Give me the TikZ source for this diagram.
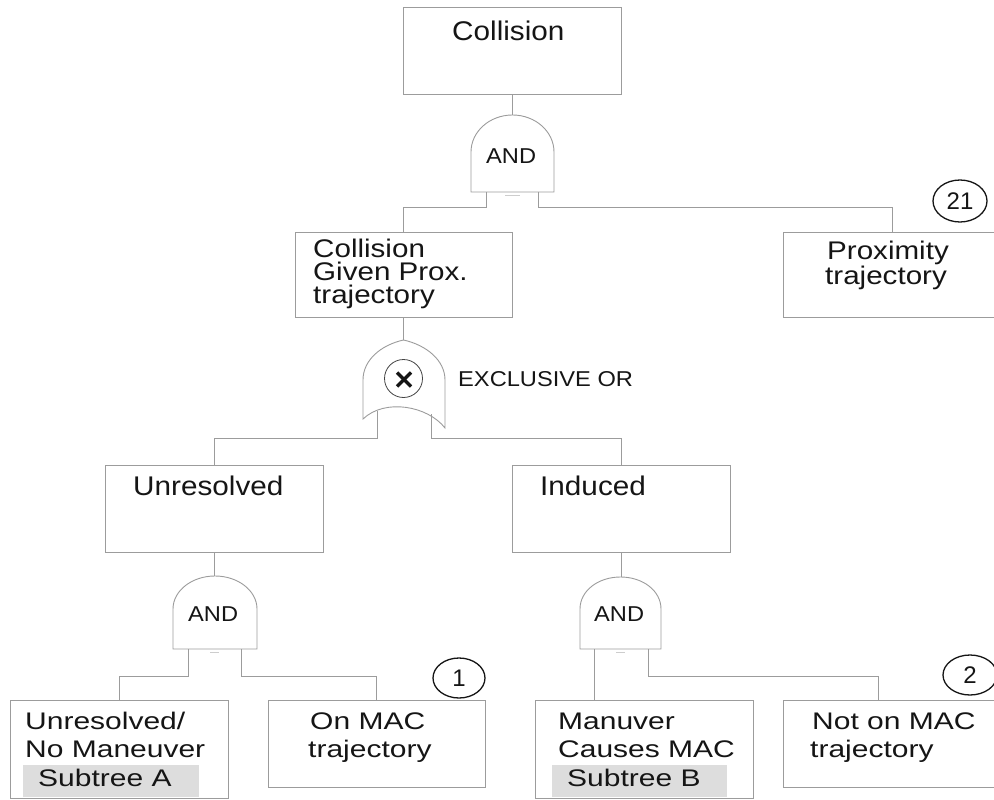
\documentclass[tikz,border=0pt]{standalone}
\usepackage{fontspec}
\setmainfont{Liberation Sans}
\newfontfamily\upf[FakeStretch=1.1]{Liberation Sans}
\newfontfamily\midf[FakeStretch=1.16]{Liberation Sans}
\newfontfamily\lowf[FakeStretch=1.25]{Liberation Sans}
\usetikzlibrary{shapes.geometric}
\definecolor{linegray}{HTML}{9C9C9C}
\definecolor{subgray}{HTML}{DDDDDD}
\definecolor{inkc}{HTML}{151515}
\tikzset{
  box/.style={draw=linegray, line width=1pt, inner sep=0pt, rectangle},
  wire/.style={draw=linegray, line width=1pt},
  gateline/.style={draw=linegray, line width=0.9pt, fill=white},
  tick/.style={draw=linegray!50, line width=0.8pt},
  up/.style={font=\upf\fontsize{27}{27}\selectfont, text=inkc, inner sep=0pt, anchor=base west},
  mid/.style={font=\midf\fontsize{25.5}{25.5}\selectfont, text=inkc, inner sep=0pt, anchor=base west},
  low/.style={font=\lowf\fontsize{24}{24}\selectfont, text=inkc, inner sep=0pt, anchor=base west},
  gatelbl/.style={font=\upf\fontsize{21.5}{21.5}\selectfont, text=inkc, inner sep=0pt, anchor=base west},
  numc/.style={ellipse, draw=inkc, line width=1.3pt, inner sep=0pt,
    font=\fontsize{24}{24}\selectfont, text=inkc},
  subtree/.style={fill=subgray, draw=none, inner sep=0pt, rectangle}
}
\begin{document}
\begin{tikzpicture}[x=1pt, y=-1pt]
\useasboundingbox (0,0) rectangle (994,800);
\clip (0,0) rectangle (994,800);

% ---------- event boxes ----------
\node[box, minimum width=218pt, minimum height=87pt] (collision) at (512,51.5) {};
\node[box, minimum width=217pt, minimum height=85pt] (cgp) at (403.5,274.5) {};
\node[box, minimum width=218pt, minimum height=85pt] (prox) at (892,274.5) {};
\node[box, minimum width=218pt, minimum height=87pt] (unres) at (214,508.5) {};
\node[box, minimum width=218pt, minimum height=87pt] (induced) at (621,508.5) {};
\node[box, minimum width=218pt, minimum height=98pt] (b1) at (119,749) {};
\node[box, minimum width=217pt, minimum height=87pt] (b2) at (376.5,743.5) {};
\node[box, minimum width=218pt, minimum height=98pt] (b3) at (644,749) {};
\node[box, minimum width=218pt, minimum height=87pt] (b4) at (892,743.5) {};

% ---------- subtree markers ----------
\node[subtree, minimum width=176pt, minimum height=32pt] (subA) at (111,781) {};
\node[subtree, minimum width=175pt, minimum height=32pt] (subB) at (639.5,781) {};

% ---------- top AND gate ----------
\draw[gateline] (471,192) -- (471,152)
  .. controls (471,131.6) and (489.6,115) .. (512.5,115)
  .. controls (535.4,115) and (554,131.6) .. (554,152) -- (554,192) -- cycle;
\draw[tick] (505,195) -- (520,195);
\coordinate (g1top) at (512,115);
\coordinate (g1l) at (486,192);
\coordinate (g1r) at (538,192);
\node[gatelbl] (and1) at (486,163) {AND};

% ---------- exclusive OR gate ----------
\draw[gateline] (363,419) -- (363,380)
  .. controls (363,360) and (381,345) .. (403.5,340)
  .. controls (426,345) and (445,360) .. (445,380) -- (445,428)
  .. controls (428,406) and (385,398) .. (363,419) -- cycle;
\coordinate (xtop) at (403.5,340);
\coordinate (xl) at (377,411);
\coordinate (xr) at (431,414);
\node[circle, draw=inkc!80, line width=0.8pt, minimum size=38pt, inner sep=0pt] (xsym) at (403.5,378.5) {};
\draw[inkc, line width=3.5pt] (397,372.5) -- (411,386.5);
\draw[inkc, line width=3.5pt] (397,386.5) -- (411,372.5);
\node[gatelbl] (xlbl) at (458,386) {EXCLUSIVE OR};

% ---------- lower AND gates ----------
\draw[gateline] (173,649) -- (173,609)
  .. controls (173,590.8) and (191.8,576) .. (215,576)
  .. controls (238.2,576) and (257,590.8) .. (257,609) -- (257,649) -- cycle;
\draw[tick] (210,652) -- (219,652);
\coordinate (g2top) at (214,576);
\coordinate (g2l) at (188,649);
\coordinate (g2r) at (241,649);
\node[gatelbl] (and2) at (188,621) {AND};

\draw[gateline] (580,649) -- (580,609)
  .. controls (580,590.8) and (598.1,577) .. (620.5,577)
  .. controls (642.9,577) and (661,590.8) .. (661,609) -- (661,649) -- cycle;
\draw[tick] (616,652) -- (625,652);
\coordinate (g3top) at (621,577);
\coordinate (g3l) at (594,649);
\coordinate (g3r) at (648,649);
\coordinate (b4in) at (878,700);
\node[gatelbl] (and3) at (594,621) {AND};

% ---------- connectors ----------
\draw[wire] (collision.south) -- (g1top);
\draw[wire] (g1l) -- ++(0,15) -| (cgp.north);
\draw[wire] (g1r) -- ++(0,15) -| (prox.north);
\draw[wire] (cgp.south) -- (xtop);
\draw[wire] (xl) -- (377,438) -| (unres.north);
\draw[wire] (xr) -- (431,438) -| (induced.north);
\draw[wire] (unres.south) -- (g2top);
\draw[wire] (g2l) -- ++(0,27) -| (b1.north);
\draw[wire] (g2r) -- ++(0,27) -| (b2.north);
\draw[wire] (induced.south) -- (g3top);
\draw[wire] (g3l) -- (g3l |- b3.north);
\draw[wire] (g3r) -- ++(0,27) -| (b4in);

% ---------- event numbers ----------
\node[numc, minimum width=54pt, minimum height=42pt] (n21) at (960,201) {21};
\node[numc, minimum width=52pt, minimum height=40pt] (n1) at (459,678) {1};
\node[numc, minimum width=54pt, minimum height=40pt] (n2) at (970,675) {2};

% ---------- labels ----------
\node[up] (t1) at (452,41) {Collision};
\node[mid] (t2a) at (313,257) {Collision};
\node[mid] (t2b) at (313,280) {Given Prox.};
\node[mid] (t2c) at (313,303) {trajectory};
\node[mid] (t3a) at (827,259) {Proximity};
\node[mid] (t3b) at (825,284) {trajectory};
\node[up] (t4) at (133,495) {Unresolved};
\node[up] (t5) at (540,495) {Induced};
\node[low] (t6a) at (25,729) {Unresolved/};
\node[low] (t6b) at (25,757) {No Maneuver};
\node[low] (t6c) at (38,786) {Subtree A};
\node[low] (t7a) at (310,729) {On MAC};
\node[low] (t7b) at (308,757) {trajectory};
\node[low] (t8a) at (558,729) {Manuver};
\node[low] (t8b) at (558,757) {Causes MAC};
\node[low] (t8c) at (567,786) {Subtree B};
\node[low] (t9a) at (812,729) {Not on MAC};
\node[low] (t9b) at (810,757) {trajectory};
\end{tikzpicture}
\end{document}
